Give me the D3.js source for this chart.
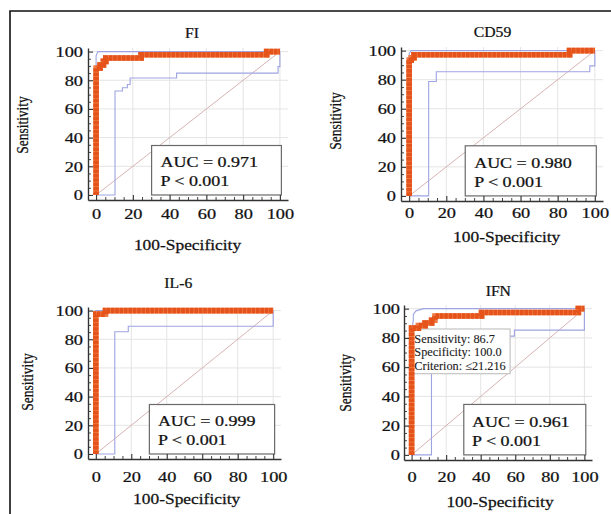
<!DOCTYPE html>
<html>
<head>
<meta charset="utf-8">
<script src="https://cdn.jsdelivr.net/npm/d3@7"></script>
<style>
  html, body { margin: 0; padding: 0; background: #fff; }
  svg { display: block; }
</style>
</head>
<body>
<svg id="chart" width="611" height="514"></svg>
<script>
// ---------------- DATA ----------------
const titles = ["FI", "CD59", "IL-6", "IFN"];
const aucLabels = ["AUC = 0.971", "AUC = 0.980", "AUC = 0.999", "AUC = 0.961"];
const pLabels = ["P < 0.001", "P < 0.001", "P < 0.001", "P < 0.001"];
const xTicks = [0, 20, 40, 60, 80, 100];
const yTicks = [0, 20, 40, 60, 80, 100];
const minorTicks = [5, 10, 15, 25, 30, 35, 45, 50, 55, 65, 70, 75, 85, 90, 95];
const xAxisTitle = "100-Specificity";
const yAxisTitle = "Sensitivity";

// ROC curves: [100-Specificity, Sensitivity]
const fiROC = [[0,0],[0,88.6],[2.2,88.6],[2.2,90.6],[4,90.6],[4,93.2],[5.3,93.2],[5.3,95.5],[24.5,95.5],[24.5,97.8],[92.8,97.8],[92.8,100],[100,100]];
const fiLower = [[0,0],[10.3,0],[10.3,72.5],[14.3,72.5],[14.3,74.8],[17,74.8],[17,77],[18.5,77],[18.5,81.6],[43.8,81.6],[43.8,85],[99,85],[99,89.5],[100,89.5],[100,100]];
const fiUpper = [[0,0],[0,97],[1,100],[100,100]];

const cdROC = [[0,0],[0,93.5],[1.1,93.5],[1.1,95.1],[2.6,95.1],[2.6,97.2],[86.4,97.2],[86.4,100],[100,100]];
const cdLower = [[0,0],[10.5,0],[10.5,78.8],[14.6,78.8],[14.6,85.5],[97.3,85.5],[97.3,89.5],[100,89.5],[100,100]];
const cdUpper = [[0,0],[0,98],[1,100],[100,100]];

const ilROC = [[0,0],[0,97.5],[5.5,97.5],[5.5,100],[100,100]];
const ilLower = [[0,0],[10.7,0],[10.7,85.2],[18.3,85.2],[18.3,89.1],[100,89.1],[100,100]];
const ilUpper = [[0,0],[0,100],[100,100]];

const ifnROC = [[0,0],[0,86.7],[3.9,86.7],[3.9,88.4],[7.8,88.4],[7.8,90.2],[11.6,90.2],[11.6,92.1],[13.5,92.1],[13.5,95],[40.5,95],[40.5,97.4],[96.5,97.4],[96.5,100],[100,100]];
const ifnLower = [[0,0],[11.5,0],[11.5,77],[25,77],[25,81.2],[59.5,81.2],[59.5,85.3],[100,85.3],[100,100]];
const ifnUpper = [[0,0],[0,85],[1,92],[1,96],[2.5,98.5],[7,100],[100,100]];

const ifnCutoff = ["Sensitivity: 86.7", "Specificity: 100.0", "Criterion: \u226421.216"];

const rocSets = [fiROC, cdROC, ilROC, ifnROC];
const lowerSets = [fiLower, cdLower, ilLower, ifnLower];
const upperSets = [fiUpper, cdUpper, ilUpper, ifnUpper];

// ---------------- LAYOUT ----------------
const layout = [
  {left: 88,  right: 288, top: 48,  bottom: 200, xPad: 7.9,  title: [192, 37.7],   xt: [187.5, 250], yt: [22, 125],   yPad: 5},
  {left: 401, right: 603, top: 47,  bottom: 201, xPad: 6.4,  title: [492.5, 36.7], xt: [506.7, 241.7], yt: [334.7, 121], yPad: 5},
  {left: 88,  right: 281, top: 307, bottom: 459, xPad: 12.4, title: [178.3, 287.7], xt: [186.7, 504], yt: [27, 382],   yPad: 5},
  {left: 404, right: 592, top: 305, bottom: 460, xPad: 11.4, title: [498.3, 296.3], xt: [500, 507],   yt: [345, 382.8], yPad: 4}
];
const xDom = [-4.4, 104.4];
const yDom = [-3.5, 102.5];
const FONT = "'Liberation Serif', 'Times New Roman', serif";

const svg = d3.select("#chart");

// outer frame
svg.append("path")
  .attr("d", "M10,514 V11 H611")
  .attr("fill", "none").attr("stroke", "#111").attr("stroke-width", 1.6);

function addText(g, x, y, str, size, sx, anchor) {
  return g.append("text")
    .attr("transform", `translate(${x},${y}) scale(${sx},1)`)
    .attr("text-anchor", anchor || "middle")
    .attr("font-family", FONT)
    .attr("font-size", size)
    .attr("fill", "#111")
    .attr("stroke", "#111").attr("stroke-width", 0.25)
    .text(str);
}

layout.forEach((L, i) => {
  const g = svg.append("g");
  const x = d3.scaleLinear().domain(xDom).range([L.left, L.right]);
  const y = d3.scaleLinear().domain(yDom).range([L.bottom, L.top]);
  const line = d3.line().x(d => x(d[0])).y(d => y(d[1]));

  // grid
  const grid = g.append("g").attr("stroke", "#e4e4e4").attr("stroke-width", 1);
  xTicks.filter(t => t > 0).forEach(t => {
    grid.append("line").attr("x1", x(t)).attr("x2", x(t)).attr("y1", L.top).attr("y2", L.bottom);
  });
  yTicks.filter(t => t > 0).forEach(t => {
    grid.append("line").attr("x1", L.left).attr("x2", L.right).attr("y1", y(t)).attr("y2", y(t));
  });

  // diagonal reference
  g.append("path").attr("d", line([[0,0],[100,100]]))
    .attr("fill", "none").attr("stroke", "#d2aaaa").attr("stroke-width", 0.9);

  // confidence bounds
  [lowerSets[i], upperSets[i]].forEach(s => {
    g.append("path").attr("d", line(s))
      .attr("fill", "none").attr("stroke", "#9ea4e2").attr("stroke-width", 1.1);
  });

  // cutoff annotation box (IFN)
  if (i === 3) {
    g.append("rect")
      .attr("x", x(0.6)).attr("y", y(86.1))
      .attr("width", x(57) - x(0.6)).attr("height", y(55.5) - y(86.1))
      .attr("fill", "#fff").attr("stroke", "#b8b8b8").attr("stroke-width", 1);
    const base = [76.5, 67.4, 58.2];
    ifnCutoff.forEach((s, k) => {
      addText(g, x(1.6), y(base[k]), s, 11.5, 1.07, "start").attr("fill", "#222").attr("stroke-width", 0.1);
    });
  }

  // ROC curve (thick orange with square-marker texture)
  const d = line(rocSets[i]);
  g.append("path").attr("d", d)
    .attr("fill", "none").attr("stroke", "#ee7a45").attr("stroke-width", 5.6)
    .attr("stroke-linejoin", "miter");
  g.append("path").attr("d", d)
    .attr("fill", "none").attr("stroke", "#e5531a").attr("stroke-width", 5.6)
    .attr("stroke-dasharray", "3.6,0.8")
    .attr("stroke-linejoin", "miter");

  // AUC box
  g.append("rect")
    .attr("x", x(30.2)).attr("y", y(34.5))
    .attr("width", x(100.8) - x(30.2)).attr("height", y(0) - y(34.5))
    .attr("fill", "#fff").attr("stroke", "#6a6a6a").attr("stroke-width", 1.2);
  addText(g, x(35), y(19.3), aucLabels[i], 15, 1.2, "start");
  addText(g, x(35), y(6), pLabels[i], 15, 1.2, "start");

  // axes - minor ticks
  const mx = g.append("g").attr("transform", `translate(0,${L.bottom})`)
    .call(d3.axisBottom(x).tickValues(minorTicks).tickSizeInner(-3).tickSizeOuter(0).tickFormat(""));
  mx.select(".domain").remove();
  const my = g.append("g").attr("transform", `translate(${L.left},0)`)
    .call(d3.axisLeft(y).tickValues(minorTicks).tickSizeInner(-3).tickSizeOuter(0).tickFormat(""));
  my.select(".domain").remove();
  [mx, my].forEach(a => a.selectAll("line").attr("stroke", "#444").attr("stroke-width", 1));

  // axes - major ticks with labels
  const tx = 1.22;
  const gx = g.append("g").attr("transform", `translate(0,${L.bottom})`)
    .call(d3.axisBottom(x).tickValues(xTicks).tickSizeInner(-5).tickSizeOuter(0).tickPadding(L.xPad));
  const gy = g.append("g").attr("transform", `translate(${L.left},0)`)
    .call(d3.axisLeft(y).tickValues(yTicks).tickSizeInner(-5).tickSizeOuter(0).tickPadding(L.yPad));
  [gx, gy].forEach(a => {
    a.select(".domain").attr("stroke", "#333").attr("stroke-width", 1.4);
    a.selectAll(".tick line").attr("stroke", "#333").attr("stroke-width", 1.1);
    a.selectAll("text")
      .attr("font-family", FONT).attr("font-size", 15).attr("fill", "#111")
      .attr("stroke", "#111").attr("stroke-width", 0.25)
      .attr("transform", `scale(${tx},1)`);
  });
  gy.selectAll("text").attr("x", -L.yPad / tx);

  // titles
  addText(g, L.title[0], L.title[1], titles[i], 14, 1.12, "middle");
  addText(g, L.xt[0], L.xt[1], xAxisTitle, 15, 1.16, "middle");
  g.append("text")
    .attr("transform", `translate(${L.yt[0]},${L.yt[1]}) rotate(-90) scale(1,1.3)`)
    .attr("text-anchor", "middle")
    .attr("dy", "0.35em")
    .attr("font-family", FONT)
    .attr("font-size", 13.5)
    .attr("fill", "#111")
    .attr("stroke", "#111").attr("stroke-width", 0.2)
    .text(yAxisTitle);
});
</script>
</body>
</html>
